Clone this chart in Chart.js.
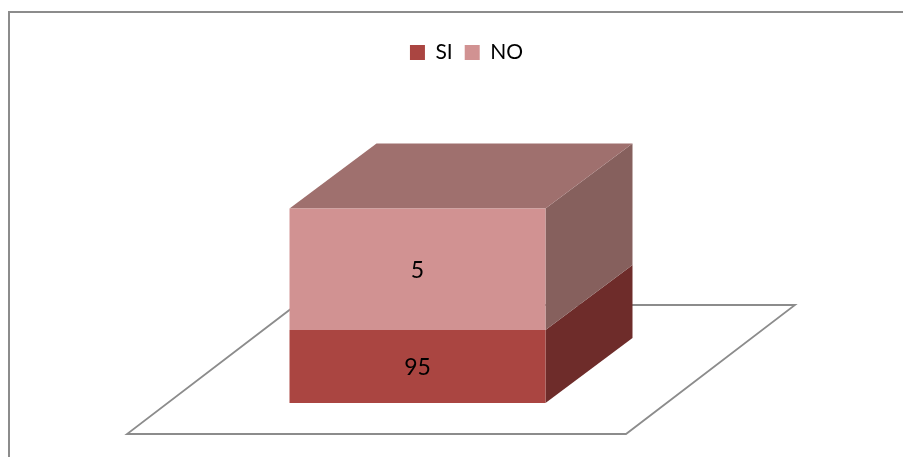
<!DOCTYPE html>
<html>
<head>
<meta charset="utf-8">
<title>SI / NO</title>
<script src="https://cdn.jsdelivr.net/npm/chart.js@4"></script>
<style>
    html, body { margin: 0; padding: 0; background: #fff; overflow: hidden; width: 903px; height: 457px; }
    #frame { position: absolute; left: 8px; top: 11px; width: 1000px; height: 1000px; border: 2px solid #8c8c8c; }
    #chart { position: absolute; left: 0; top: 0; }
</style>
</head>
<body>
<div id="frame"></div>
<canvas id="chart" width="903" height="457"></canvas>
<script>
const categories = [''];
const seriesNames = ['SI', 'NO'];
// numbers printed on the bars in the reference
const printedValues = [95, 5];
// block heights as drawn in the reference; they are not proportional to the printed numbers
const drawnHeights = [37.5, 62.5];

const frontColors = ['#AA4541', '#D19292'];
const sideColors = ['#6E2C2A', '#86605D'];
const topColor = '#9F706E';
const floorColor = '#8c8c8c';
const depthX = 87;
const depthY = 65;
const legendShift = 49;
const fontName = 'Lato, Carlito, sans-serif';

function fillPoly(ctx, points, color) {
    ctx.fillStyle = color;
    ctx.beginPath();
    points.forEach((p, i) => i ? ctx.lineTo(p[0], p[1]) : ctx.moveTo(p[0], p[1]));
    ctx.closePath();
    ctx.fill();
}

const boxPlugin = {
    id: 'box3d',
    afterLayout(chart) {
        // legend is centred on the whole chart in the reference, not on the bar
        chart.legend.left += legendShift;
        chart.legend.right += legendShift;
    },
    beforeDatasetsDraw(chart) {
        const ctx = chart.ctx;
        const area = chart.chartArea;

        // floor sits a bit in front of and behind the bar base
        const fx = 41, fy = 31, bx = 128, by = 98;
        ctx.save();
        ctx.strokeStyle = floorColor;
        ctx.lineWidth = 1.8;
        ctx.beginPath();
        ctx.moveTo(area.left - fx, area.bottom + fy);
        ctx.lineTo(area.right - fx, area.bottom + fy);
        ctx.lineTo(area.right + bx, area.bottom - by);
        ctx.lineTo(area.left + bx, area.bottom - by);
        ctx.closePath();
        ctx.stroke();

        seriesNames.forEach((name, i) => {
            const bar = chart.getDatasetMeta(i).data[0];
            const right = bar.x + bar.width / 2;
            fillPoly(ctx, [
                [right, bar.y],
                [right + depthX, bar.y - depthY],
                [right + depthX, bar.base - depthY],
                [right, bar.base]
            ], sideColors[i]);
        });

        const topBar = chart.getDatasetMeta(seriesNames.length - 1).data[0];
        const l = topBar.x - topBar.width / 2;
        const r = topBar.x + topBar.width / 2;
        fillPoly(ctx, [
            [l, topBar.y],
            [l + depthX, topBar.y - depthY],
            [r + depthX, topBar.y - depthY],
            [r, topBar.y]
        ], topColor);
        ctx.restore();
    },
    afterDatasetsDraw(chart) {
        const ctx = chart.ctx;
        ctx.save();
        ctx.fillStyle = '#000';
        ctx.font = '23px ' + fontName;
        ctx.textAlign = 'center';
        ctx.textBaseline = 'middle';
        seriesNames.forEach((name, i) => {
            const bar = chart.getDatasetMeta(i).data[0];
            ctx.fillText(String(printedValues[i]), bar.x, (bar.y + bar.base) / 2 + 1);
        });
        ctx.restore();
    }
};

new Chart(document.getElementById('chart').getContext('2d'), {
    type: 'bar',
    data: {
        labels: categories,
        datasets: seriesNames.map((name, i) => ({
            label: name,
            data: [drawnHeights[i]],
            backgroundColor: frontColors[i],
            borderWidth: 0,
            barPercentage: 0.513,
            categoryPercentage: 1
        }))
    },
    options: {
        responsive: false,
        animation: false,
        layout: { padding: { left: 168, right: 236, top: 30, bottom: 54 } },
        scales: {
            x: { stacked: true, display: false },
            y: { stacked: true, display: false, min: 0, max: 169.7 }
        },
        plugins: {
            tooltip: { enabled: false },
            legend: {
                position: 'top',
                labels: {
                    boxWidth: 15,
                    boxHeight: 15,
                    padding: 12,
                    color: '#000',
                    font: { family: fontName, size: 21 }
                }
            }
        }
    },
    plugins: [boxPlugin]
});
</script>
</body>
</html>
